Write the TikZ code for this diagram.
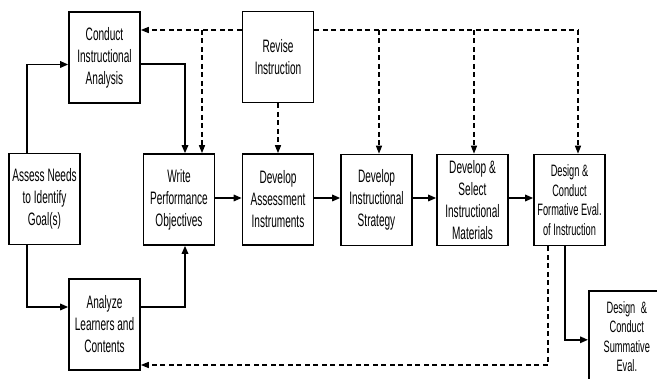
\documentclass[tikz,border=0pt]{standalone}
\usepackage{fontspec}
\setmainfont{Liberation Sans}[FakeStretch=0.56]
\usetikzlibrary{arrows.meta}
\begin{document}
\begin{tikzpicture}[x=1pt,y=-1pt,
  box/.style={draw,line width=1.6pt,fill=white,minimum width=71pt,minimum height=91pt,inner sep=1pt,align=center,font=\fontsize{18}{22}\selectfont},
  sbox/.style={box,font=\fontsize{16.5}{19.5}\selectfont},
  arr/.style={line width=1.6pt,-{Triangle[length=8pt,width=6.5pt]}},
  darr/.style={line width=1.4pt,dash pattern=on 5pt off 3.5pt,-{Triangle[length=8pt,width=6pt]}},
  dline/.style={line width=1.4pt,dash pattern=on 5pt off 3.5pt}]
\useasboundingbox (0,0) rectangle (657,379);
\clip (0,0) rectangle (657,379);
\fill[white] (0,0) rectangle (657,379);
\coordinate (topy) at (0,30);
\node[box] (revise) at (278,57) {Revise\\Instruction};
\node[box] (conduct) at (104.5,57.5) {Conduct\\Instructional\\Analysis};
\node[box] (assess) at (44.5,199) {Assess Needs\\to Identify\\Goal(s)};
\node[box] (write) at (179,199.5) {Write\\Performance\\Objectives};
\node[box] (assessment) at (278,199.5) {Develop\\Assessment\\Instruments};
\node[box] (strategy) at (376.5,200) {Develop\\Instructional\\Strategy};
\node[box] (select) at (472.5,200) {Develop \&\\Select\\Instructional\\Materials};
\node[sbox] (formative) at (569.5,200) {Design \&\\Conduct\\Formative Eval.\\of Instruction};
\node[box] (analyze) at (104.5,324.5) {Analyze\\Learners and\\Contents};
\node[sbox,minimum width=76pt,text width=68pt,inner sep=0pt,anchor=north west,minimum height=92pt] (summative) at (588,290) {Design \&\\Conduct\\Summative\\Eval.};
% solid connectors
\draw[arr] ([xshift=-17.5pt]assess.north) |- ([yshift=-7pt]conduct.west);
\draw[arr] ([xshift=-17.5pt]assess.south) |- ([yshift=17.5pt]analyze.west);
\draw[arr] ([yshift=-6.5pt]conduct.east) -| ([xshift=6pt]write.north);
\draw[arr] ([yshift=17.5pt]analyze.east) -| ([xshift=6pt]write.south);
\draw[arr] ([yshift=1.5pt]write.east) -- ([yshift=1.5pt]assessment.west);
\draw[arr] ([yshift=1.5pt]assessment.east) -- ([yshift=2pt]strategy.west);
\draw[arr] ([yshift=2pt]strategy.east) -- ([yshift=2pt]select.west);
\draw[arr] ([yshift=2pt]select.east) -- ([yshift=2pt]formative.west);
\draw[arr] ([xshift=-4.5pt]formative.south) |- ([yshift=-3pt]summative.west);
% dashed connectors
\draw[darr] (revise.west |- topy) -- (conduct.east |- topy);
\draw[darr] ([xshift=23pt]write.north |- topy) -- ([xshift=23pt]write.north);
\draw[dline] (revise.east |- topy) -- ([xshift=8.5pt]formative.north |- topy);
\draw[darr] ([xshift=8.5pt]formative.north |- topy) -- ([xshift=8.5pt]formative.north);
\draw[darr] ([xshift=2.5pt]strategy.north |- topy) -- ([xshift=2.5pt]strategy.north);
\draw[darr] ([xshift=1.5pt]select.north |- topy) -- ([xshift=1.5pt]select.north);
\draw[darr] (revise.south) -- (assessment.north);
\draw[darr] ([xshift=-21.5pt]formative.south) |- ([yshift=-40.5pt]analyze.east);
\end{tikzpicture}
\end{document}
